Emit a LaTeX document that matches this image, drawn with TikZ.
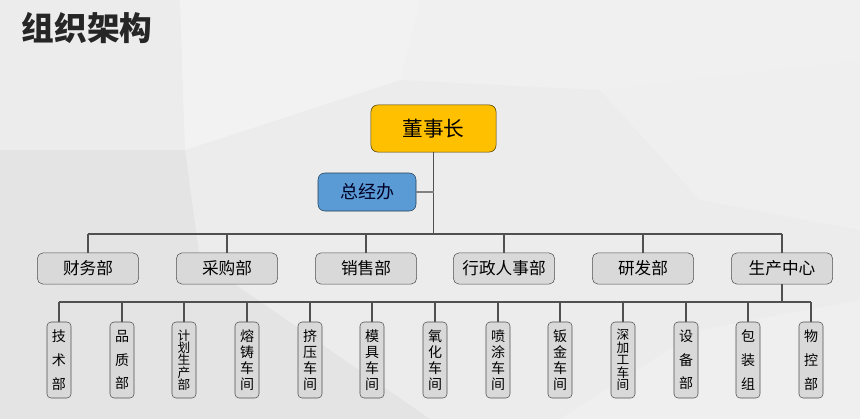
\documentclass[tikz,border=0pt]{standalone}
\usepackage{fontspec}
\setmainfont{Noto Sans CJK SC}
\usetikzlibrary{positioning,calc}
\definecolor{bgc}{RGB}{236,236,236}
\definecolor{gold}{RGB}{255,192,0}
\definecolor{sky}{RGB}{91,155,213}
\definecolor{boxc}{RGB}{217,217,217}
\definecolor{edgec}{RGB}{80,80,80}
\definecolor{titlec}{RGB}{38,38,38}

\begin{document}
\begin{tikzpicture}[x=0.75pt, y=-0.75pt,
  top/.style={draw=black!70!gold, fill=gold, rounded corners=5pt, minimum width=93.8pt, minimum height=35.3pt, inner sep=0pt, font=\fontsize{15.5}{18}\selectfont},
  gm/.style={draw=black!60!sky, fill=sky, rounded corners=5pt, minimum width=73.5pt, minimum height=28.5pt, inner sep=0pt, text=black!85!blue, font=\fontsize{13.5}{16}\selectfont},
  dept/.style={draw=edgec, fill=boxc, rounded corners=4pt, minimum width=75.8pt, minimum height=23.3pt, inner sep=0pt, font=\fontsize{12.5}{15}\selectfont},
  unit/.style={draw=edgec, fill=boxc, rounded corners=3pt, minimum width=18pt, minimum height=57pt, text width=14pt, inner sep=0pt, align=center},
  u3/.style={unit, font=\fontsize{10.5}{17.8}\selectfont},
  u4/.style={unit, font=\fontsize{10.5}{12}\selectfont},
  u5/.style={unit, font=\fontsize{9.5}{9.3}\selectfont},
  ln/.style={draw=edgec, line width=1pt},
  lnl/.style={draw=gray, line width=1pt}]
  % background
  \fill[bgc] (0,0) rectangle (860,419);
  \fill[white, opacity=.35] (180,0) -- (420,0) -- (400,80) -- (185,150) -- cycle;
  \fill[white, opacity=.25] (420,0) -- (860,0) -- (860,60) -- (600,90) -- (400,80) -- cycle;
  \fill[black, opacity=.03] (0,150) -- (185,150) -- (200,260) -- (0,300) -- cycle;
  \fill[white, opacity=.2] (600,90) -- (860,60) -- (860,230) -- (700,200) -- cycle;
  \fill[black, opacity=.03] (0,300) -- (200,260) -- (430,419) -- (0,419) -- cycle;
  \fill[white, opacity=.2] (560,419) -- (700,330) -- (860,300) -- (860,419) -- cycle;
  \useasboundingbox (0,0) rectangle (860,419);

  \node[anchor=west, text=titlec, font=\fontsize{24.5}{28}\selectfont\bfseries] (title) at (17,28) {组织架构};

  \node[top] (dsz) at (433.5,128.5) {董事长};
  \node[gm]  (zjb) at (367,192)     {总经办};

  \node[dept] (cw) at (88,268.5)  {财务部};
  \node[dept] (cg) at (227,268.5) {采购部};
  \node[dept] (xs) at (366,268.5) {销售部};
  \node[dept] (xz) at (504,268.5) {行政人事部};
  \node[dept] (yf) at (643,268.5) {研发部};
  \node[dept] (sc) at (782,268.5) {生产中心};

  \node[u3] (js)  at (59,360)  {技\\术\\部};
  \node[u3] (pz)  at (122,360) {品\\质\\部};
  \node[u5] (jh)  at (184,360) {计\\划\\生\\产\\部};
  \node[u4] (rz)  at (247,360) {熔\\铸\\车\\间};
  \node[u4] (jy)  at (310,360) {挤\\压\\车\\间};
  \node[u4] (mj)  at (372,360) {模\\具\\车\\间};
  \node[u4] (yh)  at (435,360) {氧\\化\\车\\间};
  \node[u4] (pt)  at (498,360) {喷\\涂\\车\\间};
  \node[u4] (bj)  at (560,360) {钣\\金\\车\\间};
  \node[u5] (sjg) at (623,360) {深\\加\\工\\车\\间};
  \node[u3] (sb)  at (686,360) {设\\备\\部};
  \node[u3] (bz)  at (748,360) {包\\装\\组};
  \node[u3] (wk)  at (811,360) {物\\控\\部};

  % upper bus
  \coordinate (b1) at (433.5,234);
  \draw[ln] (dsz) -- (b1);
  \draw[lnl] (zjb) -- (zjb -| dsz);
  \draw[ln] (cw.north |- b1) -- (sc.north |- b1);
  \draw[ln] (cw) -- (cw.north |- b1);
  \draw[ln] (cg) -- (cg.north |- b1);
  \draw[ln] (xs) -- (xs.north |- b1);
  \draw[ln] (xz) -- (xz.north |- b1);
  \draw[ln] (yf) -- (yf.north |- b1);
  \draw[ln] (sc) -- (sc.north |- b1);

  % lower bus
  \coordinate (b2) at (782,302);
  \draw[ln] (sc) -- (b2);
  \draw[ln] (js.north |- b2) -- (wk.north |- b2);
  \draw[ln] (js) -- (js.north |- b2);
  \draw[ln] (pz) -- (pz.north |- b2);
  \draw[ln] (jh) -- (jh.north |- b2);
  \draw[ln] (rz) -- (rz.north |- b2);
  \draw[ln] (jy) -- (jy.north |- b2);
  \draw[ln] (mj) -- (mj.north |- b2);
  \draw[ln] (yh) -- (yh.north |- b2);
  \draw[ln] (pt) -- (pt.north |- b2);
  \draw[ln] (bj) -- (bj.north |- b2);
  \draw[ln] (sjg) -- (sjg.north |- b2);
  \draw[ln] (sb) -- (sb.north |- b2);
  \draw[ln] (bz) -- (bz.north |- b2);
  \draw[ln] (wk) -- (wk.north |- b2);
\end{tikzpicture}
\end{document}
